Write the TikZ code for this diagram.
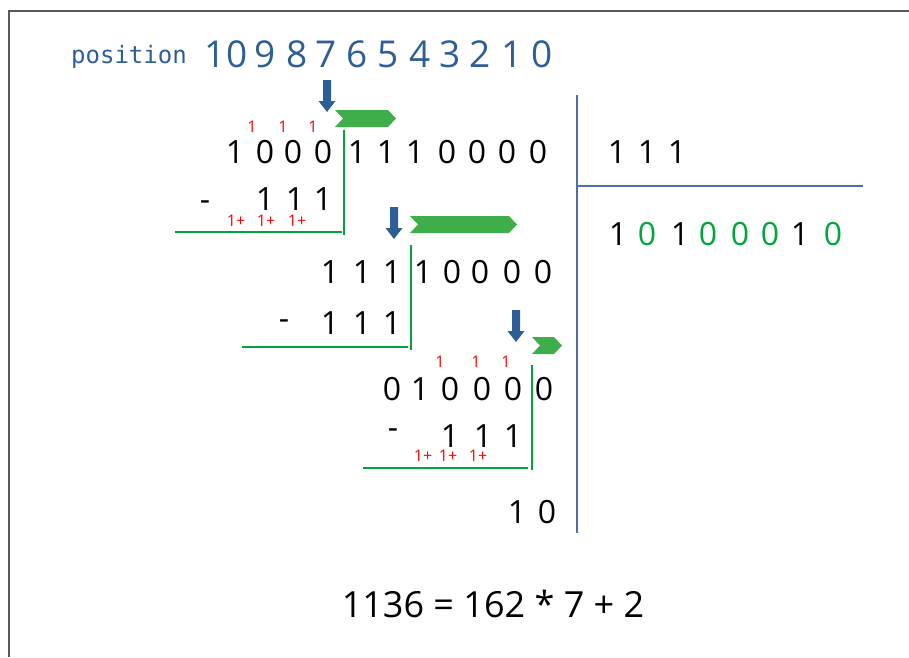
\documentclass[tikz,border=0pt]{standalone}
\usepackage{fontspec}
\setmainfont{Open Sans}
\newfontfamily\posfont{DejaVu Sans Mono}
\definecolor{posblue}{HTML}{2E5E96}
\definecolor{chevgreen}{HTML}{3DAE49}
\definecolor{linegreen}{HTML}{00A63C}
\definecolor{divblue}{HTML}{4A6FAE}

\tikzset{
  downarrow/.pic={
    \fill[posblue] (-4,0) -- (4,0) -- (4,21) -- (8.5,21) -- (0,32) -- (-8.5,21) -- (-4,21) -- cycle;
  },
}

\begin{document}
\begin{tikzpicture}[x=1pt,y=-1pt,
  digit/.style={inner sep=0pt,anchor=base,font=\fontsize{32}{32}\selectfont},
  bigdigit/.style={inner sep=0pt,anchor=base,font=\fontsize{37}{37}\selectfont},
  carry/.style={inner sep=0pt,anchor=base,text=red,font=\fontsize{16}{16}\selectfont},
  gline/.style={draw=linegreen,line width=2pt},
  divline/.style={draw=divblue,line width=2pt},
]
\useasboundingbox (0,0) rectangle (909,657);
\draw[line width=1.5pt,black!65] (9,657) -- (9,11) -- (909,11);

% position header
\node[inner sep=0pt,anchor=base,text=posblue,font=\posfont\fontsize{24}{24}\selectfont] (pos) at (129,63) {position};
\foreach \x/\d [count=\i] in {226/10,265/9,297/8,326/7,357/6,388/5,420/4,450/3,480/2,512/1,542/0}
  \node[bigdigit,text=posblue] (p\i) at (\x,67) {\d};

% arrows and chevrons
\pic at (327,80) {downarrow};
\pic at (394,207) {downarrow};
\pic at (516,310) {downarrow};
\foreach \xa/\xb/\ya in {335/396/110,410/517/216,532/562/337}
  \fill[chevgreen] (\xa,\ya) -- (\xb-8,\ya) -- (\xb,\ya+8.5) -- (\xb-8,\ya+17) -- (\xa,\ya+17) -- (\xa+8,\ya+8.5) -- cycle;

% first step
\foreach \x [count=\i] in {252,283,313}
  \node[carry] (c1\i) at (\x,132) {1};
\foreach \x/\d [count=\i] in {235/1,265/0,293/0,323/0,357/1,386/1,415/1,447/0,477/0,507/0,538/0}
  \node[digit] (a\i) at (\x,163) {\d};
\node[digit] (m1) at (205,210.5) {-};
\foreach \x [count=\i] in {265,295,323}
  \node[digit] (b\i) at (\x,210) {1};
\foreach \x [count=\i] in {236,266,297}
  \node[carry] (k1\i) at (\x,226) {1+};
\draw[gline] (344,130) -- (344,235);
\draw[gline] (175,232) -- (342,232);

% second step
\foreach \x/\d [count=\i] in {330/1,362/1,392/1,423/1,452/0,480/0,512/0,543/0}
  \node[digit] (e\i) at (\x,283) {\d};
\node[digit] (m2) at (284,329.5) {-};
\foreach \x [count=\i] in {330,362,392}
  \node[digit] (f\i) at (\x,334) {1};
\draw[gline] (411,245) -- (411,350);
\draw[gline] (242,347) -- (408,347);

% third step
\foreach \x [count=\i] in {440,476,506}
  \node[carry] (c3\i) at (\x,367) {1};
\foreach \x/\d [count=\i] in {392/0,420/1,450/0,482/0,513/0,544/0}
  \node[digit] (g\i) at (\x,400) {\d};
\node[digit] (m3) at (393,438) {-};
\foreach \x [count=\i] in {450,483,513}
  \node[digit] (h\i) at (\x,447) {1};
\foreach \x [count=\i] in {423,448,478}
  \node[carry] (k3\i) at (\x,461) {1+};
\draw[gline] (532,365) -- (532,470);
\draw[gline] (363,468) -- (528,468);

% remainder
\node[digit] (r1) at (517,523) {1};
\node[digit] (r2) at (547,523) {0};

% divisor and quotient
\draw[divline] (577,95) -- (577,533);
\draw[divline] (577,186) -- (863,186);
\foreach \x [count=\i] in {617,647,677}
  \node[digit] (v\i) at (\x,163) {1};
\foreach \x/\d/\c [count=\i] in {618/1/black,647/0/linegreen,680/1/black,708/0/linegreen,740/0/linegreen,770/0/linegreen,800/1/black,833/0/linegreen}
  \node[digit,text=\c] (q\i) at (\x,245) {\d};

% result
\node[inner sep=0pt,anchor=base,font=\fontsize{36}{36}\selectfont] (eq) at (493,617) {1136 = 162 * 7 + 2};
\end{tikzpicture}
\end{document}
